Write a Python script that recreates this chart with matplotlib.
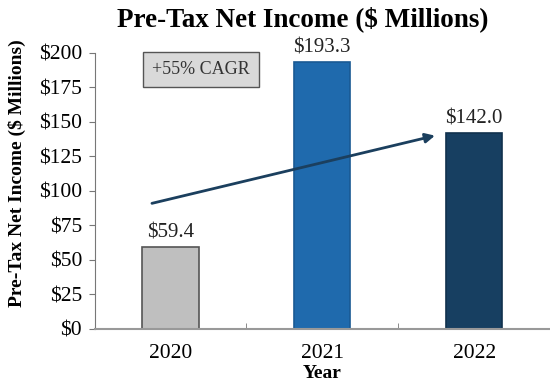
import matplotlib.pyplot as plt

years = ["2020", "2021", "2022"]
income = [59.4, 193.3, 142.0]
labels = ["$59.4", "$193.3", "$142.0"]
colors = ["#bfbfbf", "#1f6aad", "#173f61"]
edges = ["#555555", "#1a5a94", "#10314d"]
yticks = [0, 25, 50, 75, 100, 125, 150, 175, 200]

plt.rcParams['font.family'] = ['Liberation Serif', 'DejaVu Serif']

fig = plt.figure(figsize=(5.5, 3.86), dpi=100)
ax = fig.add_axes([0.172, 0.148, 0.828, 0.715])

x = range(len(years))
ax.bar(x, income, width=0.37, color=colors, edgecolor=edges, linewidth=1.2, zorder=2)
for i, v in enumerate(income):
    ax.text(i, v + 3, labels[i], ha='center', va='bottom', fontsize=15, color='#222222')

ax.set_xlim(-0.5, 2.5)
ax.set_ylim(0, 200)
ax.set_yticks(yticks)
ax.set_yticklabels([f"${t}" for t in yticks], fontsize=15.5)
ax.set_xticks(list(x))
ax.set_xticklabels(years, fontsize=15.5)
ax.set_xticks([0.5, 1.5], minor=True)
ax.tick_params(axis='x', which='major', length=0, pad=11)
ax.tick_params(axis='x', which='minor', length=4, direction='in', color='#777777')
ax.tick_params(axis='y', length=4, color='#777777', pad=5)

for s in ['top', 'right']:
    ax.spines[s].set_visible(False)
ax.spines['left'].set_color('#777777')
ax.spines['bottom'].set_color('#999999')
ax.spines['bottom'].set_linewidth(1.5)

ax.set_xlabel("Year", fontsize=14, fontweight='bold', labelpad=1)
ax.set_ylabel("Pre-Tax Net Income ($ Millions)", fontsize=14, fontweight='bold')
ax.yaxis.set_label_coords(-0.15, 0.565)
ax.set_title("Pre-Tax Net Income ($ Millions)", fontsize=19.5, fontweight='bold', pad=19, x=0.457)

ax.annotate("", xy=(1.76, 140.5), xytext=(-0.14, 90.5),
            arrowprops=dict(arrowstyle='-|>', color='#1b3f5e', lw=2, mutation_scale=14))

ax.text(0.2, 188, "+55% CAGR", ha='center', va='center', fontsize=13, color='#333333',
        bbox=dict(boxstyle='square,pad=0.5', facecolor='#d9d9d9', edgecolor='#555555', linewidth=1))

fig.savefig("out.png", dpi=100)
